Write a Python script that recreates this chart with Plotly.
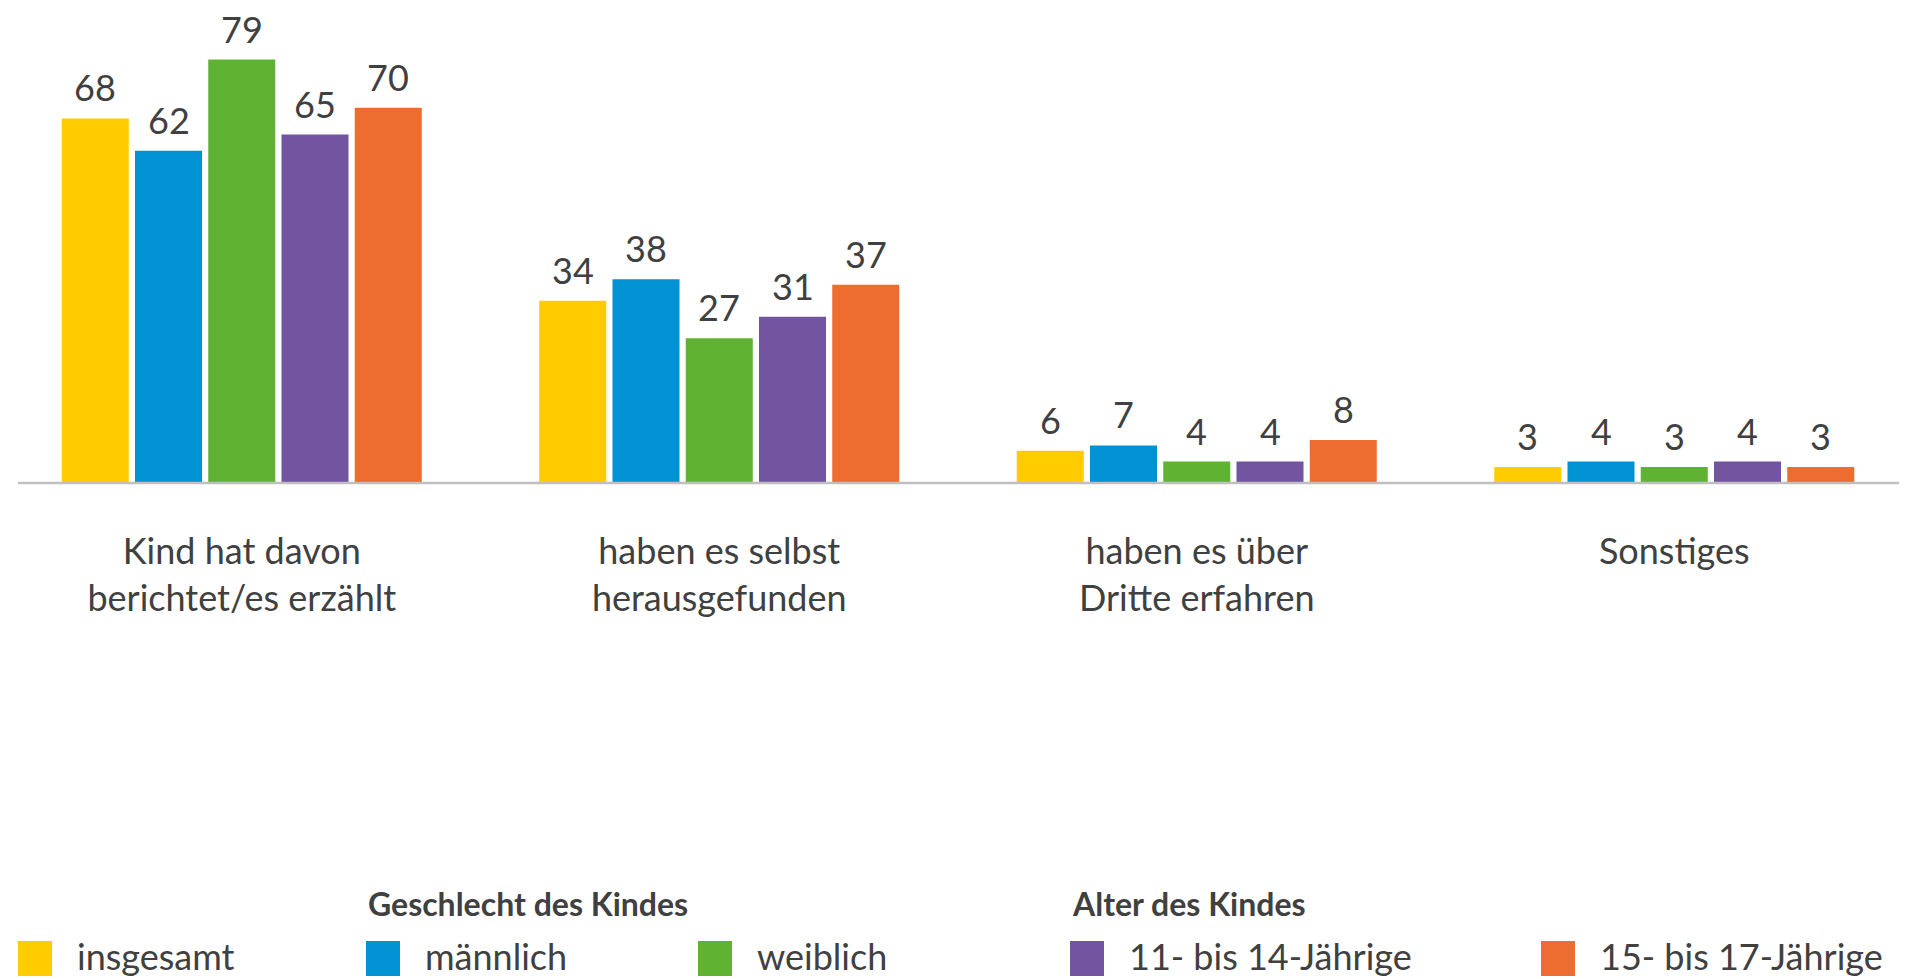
import plotly.graph_objects as go

# data
categories = [
    "Kind hat davon<br>berichtet/es erzählt",
    "haben es selbst<br>herausgefunden",
    "haben es über<br>Dritte erfahren",
    "Sonstiges",
]
series_names = ["insgesamt", "männlich", "weiblich", "11- bis 14-Jährige", "15- bis 17-Jährige"]
insgesamt = [68, 34, 6, 3]
maennlich = [62, 38, 7, 4]
weiblich = [79, 27, 4, 3]
alter_11_14 = [65, 31, 4, 4]
alter_15_17 = [70, 37, 8, 3]
series_values = [insgesamt, maennlich, weiblich, alter_11_14, alter_15_17]

colors = ["#FFCC00", "#0092D2", "#60B232", "#7354A1", "#ED6C2F"]
text_col = "#404040"
FONT = "Lato"

W, H = 1914, 979
def px(x):
    return x / W
def py(y):
    return 1 - y / H

BARGAP = 0.233
n = len(series_names)
slot = (1 - BARGAP) / n

fig = go.Figure()
annotations = []
for i, (name, vals, col) in enumerate(zip(series_names, series_values, colors)):
    fig.add_trace(go.Bar(
        x=categories, y=vals, name=name, marker_color=col, marker_line_width=0,
        showlegend=False,
    ))
    # value labels above each bar
    for j, v in enumerate(vals):
        annotations.append(dict(x=j + (i - (n - 1) / 2) * slot, y=v, xref="x", yref="y",
                                text=str(v), showarrow=False, yanchor="middle", yshift=31,
                                font=dict(family=FONT, size=36, color=text_col)))

# custom legend (swatches + labels), groups with titles
legend_x = [18, 366, 698, 1070, 1541]
shapes = [dict(type="line", xref="paper", yref="paper", x0=px(18), x1=px(1899),
               y0=py(483), y1=py(483), line=dict(color="#BFBFBF", width=2.5))]
for lx, name, col in zip(legend_x, series_names, colors):
    shapes.append(dict(type="rect", xref="paper", yref="paper", x0=px(lx), x1=px(lx + 34),
                       y0=py(976), y1=py(941), fillcolor=col, line_width=0))
    annotations.append(dict(text=name, xref="paper", yref="paper", x=px(lx + 57), y=py(956),
                            xanchor="left", yanchor="middle", showarrow=False,
                            font=dict(family=FONT, size=36, color=text_col)))
for title, lx in [("Geschlecht des Kindes", 366), ("Alter des Kindes", 1070)]:
    annotations.append(dict(text="<b>" + title + "</b>", xref="paper", yref="paper", x=px(lx), y=py(903),
                            xanchor="left", yanchor="middle", showarrow=False,
                            font=dict(family=FONT, size=32, color=text_col)))

fig.update_layout(
    width=W, height=H,
    plot_bgcolor="white", paper_bgcolor="white",
    margin=dict(l=0, r=0, t=0, b=0),
    barmode="group", bargap=BARGAP, bargroupgap=0.085,
    xaxis=dict(domain=[px(3), px(1913)], showline=False, showgrid=False, zeroline=False,
               ticks="", ticklabelstandoff=44,
               tickfont=dict(family=FONT, size=36, color=text_col)),
    yaxis=dict(domain=[py(483), 1], range=[0, 90.1], visible=False),
    shapes=shapes, annotations=annotations,
)

# drop the default body margin so the fixed-size figure fills the window
fig.write_html("out.html", config={"displayModeBar": False},
               post_script="document.body.style.margin='0';document.body.style.overflow='hidden';")
